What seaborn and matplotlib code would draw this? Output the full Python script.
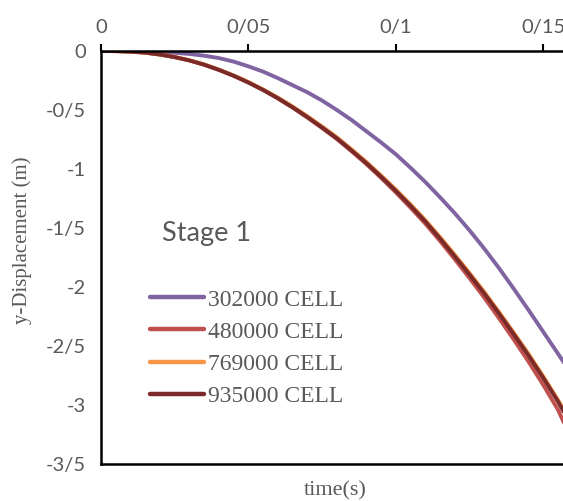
import matplotlib
matplotlib.use("Agg")
import matplotlib.pyplot as plt
from matplotlib.ticker import FuncFormatter
import seaborn as sns
import pandas as pd

# Time samples (s)
time_s = [0.0, 0.005, 0.01, 0.015, 0.02, 0.025, 0.03, 0.035, 0.04, 0.045,
          0.05, 0.055, 0.06, 0.065, 0.07, 0.075, 0.08, 0.085, 0.09, 0.095,
          0.10, 0.105, 0.11, 0.115, 0.12, 0.125, 0.13, 0.135, 0.14, 0.145,
          0.15, 0.155, 0.157]

# Vertical displacement (m) for each mesh size
disp_302000 = [0.0, 0.0, -0.002, -0.004, -0.008, -0.015, -0.025, -0.04, -0.06, -0.09,
               -0.13, -0.175, -0.23, -0.29, -0.35, -0.42, -0.50, -0.585, -0.68, -0.775,
               -0.875, -0.99, -1.11, -1.24, -1.375, -1.52, -1.675, -1.84, -2.015, -2.195,
               -2.38, -2.565, -2.64]
disp_480000 = [0.0, -0.001, -0.005, -0.014, -0.03, -0.052, -0.08, -0.116, -0.16, -0.21,
               -0.267, -0.331, -0.402, -0.48, -0.564, -0.653, -0.746, -0.85, -0.958, -1.075,
               -1.198, -1.328, -1.463, -1.61, -1.765, -1.925, -2.09, -2.265, -2.445, -2.632,
               -2.83, -3.04, -3.15]
disp_769000 = [0.0, -0.001, -0.005, -0.014, -0.03, -0.051, -0.079, -0.114, -0.158, -0.207,
               -0.263, -0.326, -0.395, -0.471, -0.553, -0.64, -0.731, -0.834, -0.94, -1.055,
               -1.174, -1.30, -1.433, -1.577, -1.727, -1.882, -2.042, -2.212, -2.387, -2.567,
               -2.757, -2.957, -3.045]
disp_935000 = [0.0, -0.001, -0.005, -0.014, -0.03, -0.052, -0.08, -0.116, -0.16, -0.21,
               -0.267, -0.33, -0.40, -0.477, -0.56, -0.648, -0.74, -0.843, -0.95, -1.065,
               -1.185, -1.312, -1.445, -1.59, -1.74, -1.895, -2.055, -2.225, -2.40, -2.58,
               -2.77, -2.97, -3.06]

series_names = ["302000 CELL", "480000 CELL", "769000 CELL", "935000 CELL"]
series_values = [disp_302000, disp_480000, disp_769000, disp_935000]
series_colors = ["#8064A2", "#C0504D", "#F79646", "#7A2A28"]

W, H = 563, 501
DPI = 100
fig = plt.figure(figsize=(W / DPI, H / DPI), dpi=DPI)
sns.set_style("white")
plt.rcParams["font.family"] = ["Lato", "DejaVu Sans"]

ax = fig.add_axes([101 / W, 1 - 464 / H, (W - 101) / W, (464 - 51) / H])

frames = []
for name, vals in zip(series_names, series_values):
    frames.append(pd.DataFrame({"time": time_s, "disp": vals, "mesh": name}))
df = pd.concat(frames, ignore_index=True)

sns.lineplot(data=df, x="time", y="disp", hue="mesh", hue_order=series_names,
             palette=dict(zip(series_names, series_colors)), linewidth=2.8,
             ax=ax, legend=False, sort=False)

ax.set_xlim(0, 0.1567)
ax.set_ylim(-3.5, 0)
ax.set_xticks([0, 0.05, 0.1, 0.15])
ax.set_yticks([0, -0.5, -1, -1.5, -2, -2.5, -3, -3.5])

fmt = FuncFormatter(lambda v, pos: ("%g" % round(v, 4)).replace(".", "/"))
ax.xaxis.set_major_formatter(fmt)
ax.yaxis.set_major_formatter(fmt)

ax.xaxis.tick_top()
ax.tick_params(axis="x", which="major", direction="out", length=5, width=1.5,
               colors="black", labelcolor="#595959", labelsize=14.5, pad=6)
ax.tick_params(axis="y", which="major", direction="out", length=5, width=1.5,
               colors="black", labelcolor="#595959", labelsize=14.5, pad=6)
ax.tick_params(axis="x", bottom=False, labelbottom=False)

for side in ["left", "top", "bottom"]:
    ax.spines[side].set_visible(True)
    ax.spines[side].set_color("black")
    ax.spines[side].set_linewidth(1.8)
ax.spines["right"].set_visible(False)
ax.grid(False)

serif = ["Liberation Serif", "DejaVu Serif"]
ax.set_xlabel("")
ax.set_ylabel("")
fig.text(335 / W, 1 - 491 / H, "time(s)", family=serif, fontsize=16,
         color="#595959", ha="center", va="center")
fig.text(22 / W, 1 - 240 / H, "y-Displacement (m)", family=serif, fontsize=15,
         color="#595959", ha="center", va="center", rotation=90)

ax.text((162 - 101) / (W - 101), 1 - (234 - 51) / (464 - 51), "Stage 1",
        transform=ax.transAxes, fontsize=19.5, color="#595959",
        ha="left", va="center")

handles = [plt.Line2D([], [], color=c, linewidth=3.2) for c in series_colors]
leg = ax.legend(handles, series_names, loc="upper left",
                bbox_to_anchor=((150 - 101) / (W - 101), 1 - (289 - 51) / (464 - 51)),
                frameon=False, handlelength=2.3, handletextpad=0.15,
                labelspacing=0.45, borderaxespad=0, borderpad=0,
                prop={"family": serif, "size": 17})
for t in leg.get_texts():
    t.set_color("#595959")

fig.savefig("out.png", dpi=DPI)
